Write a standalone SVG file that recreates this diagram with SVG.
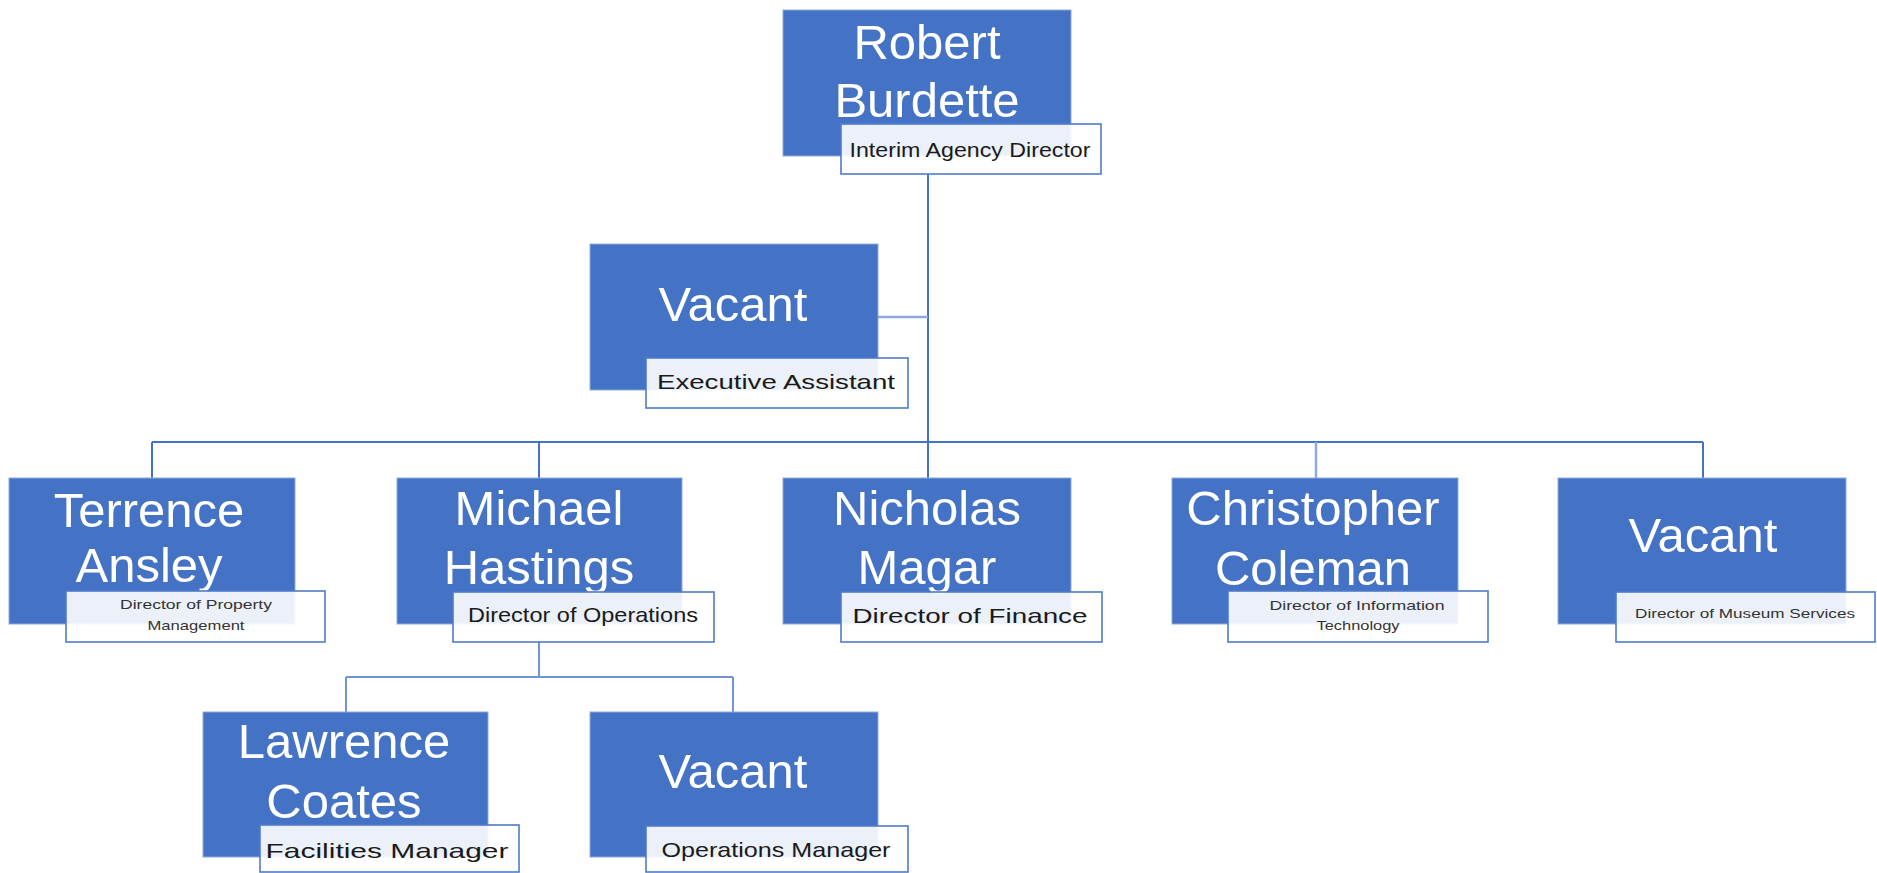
<svg xmlns="http://www.w3.org/2000/svg" width="1877" height="873" viewBox="0 0 1877 873">
<style>
.box{fill:#4472C4;stroke:#8EA9DB;stroke-width:1}
.lbl{fill:#ffffff;fill-opacity:0.9;stroke:#4F7BCB;stroke-width:1.6}
.name{font-family:"Liberation Sans",Arial,sans-serif;font-size:49px;fill:#ffffff;text-anchor:middle}
.role{font-family:"Liberation Sans",Arial,sans-serif;font-size:21px;fill:#1a1a1a;text-anchor:middle}
.small{font-family:"Liberation Sans",Arial,sans-serif;font-size:13px;fill:#333333;text-anchor:middle}
.ln{fill:none;stroke:#4472C4;stroke-width:2}
.lt{fill:none;stroke:#8FAADC;stroke-width:2.5}
.lm{fill:none;stroke:#6F95D6;stroke-width:2}
</style>
<rect width="1877" height="873" fill="#ffffff"/>
<g id="connectors">
<path class="ln" d="M928,174 V442"/>
<path class="lt" d="M878,317 H928"/>
<path class="ln" d="M152,442 H1703"/>
<path class="ln" d="M152,442 V478"/>
<path class="ln" d="M539,442 V478"/>
<path class="ln" d="M928,442 V478"/>
<path class="lt" d="M1316,442 V478"/>
<path class="ln" d="M1703,442 V478"/>
<path class="lm" d="M539,642 V677"/>
<path class="lm" d="M346,677 H733"/>
<path class="lm" d="M346,677 V712"/>
<path class="lm" d="M733,677 V712"/>
</g>
<g id="node-robert">
<rect class="box" x="783" y="10" width="288" height="146"/>
<text class="name" x="927" y="59">Robert</text>
<text class="name" x="927" y="117">Burdette</text>
<rect class="lbl" x="841" y="124" width="260" height="50"/>
<text class="role" x="970" y="157" textLength="241" lengthAdjust="spacingAndGlyphs">Interim Agency Director</text>
</g>
<g id="node-exec-assistant">
<rect class="box" x="590" y="244" width="288" height="146"/>
<text class="name" x="733" y="321">Vacant</text>
<rect class="lbl" x="646" y="358" width="262" height="50"/>
<text class="role" x="776" y="389" font-size="22" textLength="238" lengthAdjust="spacingAndGlyphs">Executive Assistant</text>
</g>
<g id="node-terrence">
<rect class="box" x="9" y="478" width="286" height="146"/>
<text class="name" x="149" y="527">Terrence</text>
<text class="name" x="149" y="582">Ansley</text>
<rect class="lbl" x="66" y="591" width="259" height="51"/>
<text class="small" x="196" y="609" textLength="152" lengthAdjust="spacingAndGlyphs">Director of Property</text>
<text class="small" x="196" y="630" textLength="97" lengthAdjust="spacingAndGlyphs">Management</text>
</g>
<g id="node-michael">
<rect class="box" x="397" y="478" width="285" height="146"/>
<text class="name" x="539" y="525">Michael</text>
<text class="name" x="539" y="584">Hastings</text>
<rect class="lbl" x="453" y="592" width="261" height="50"/>
<text class="role" x="583" y="622" textLength="230" lengthAdjust="spacingAndGlyphs">Director of Operations</text>
</g>
<g id="node-nicholas">
<rect class="box" x="783" y="478" width="288" height="146"/>
<text class="name" x="927" y="525">Nicholas</text>
<text class="name" x="927" y="584">Magar</text>
<rect class="lbl" x="841" y="592" width="261" height="50"/>
<text class="role" x="970" y="623" font-size="22" textLength="235" lengthAdjust="spacingAndGlyphs">Director of Finance</text>
</g>
<g id="node-christopher">
<rect class="box" x="1172" y="478" width="286" height="146"/>
<text class="name" x="1313" y="525">Christopher</text>
<text class="name" x="1313" y="585">Coleman</text>
<rect class="lbl" x="1228" y="591" width="260" height="51"/>
<text class="small" x="1357" y="610" textLength="175" lengthAdjust="spacingAndGlyphs">Director of Information</text>
<text class="small" x="1358" y="630" textLength="83" lengthAdjust="spacingAndGlyphs">Technology</text>
</g>
<g id="node-museum">
<rect class="box" x="1558" y="478" width="288" height="146"/>
<text class="name" x="1703" y="552">Vacant</text>
<rect class="lbl" x="1616" y="592" width="259" height="50"/>
<text class="small" x="1745" y="618" textLength="220" lengthAdjust="spacingAndGlyphs">Director of Museum Services</text>
</g>
<g id="node-lawrence">
<rect class="box" x="203" y="712" width="285" height="145"/>
<text class="name" x="344" y="758">Lawrence</text>
<text class="name" x="344" y="818">Coates</text>
<rect class="lbl" x="260" y="825" width="259" height="47"/>
<text class="role" x="387" y="858" font-size="23" textLength="243" lengthAdjust="spacingAndGlyphs">Facilities Manager</text>
</g>
<g id="node-ops-manager">
<rect class="box" x="590" y="712" width="288" height="145"/>
<text class="name" x="733" y="788">Vacant</text>
<rect class="lbl" x="646" y="826" width="262" height="46"/>
<text class="role" x="776" y="857" textLength="229" lengthAdjust="spacingAndGlyphs">Operations Manager</text>
</g>
</svg>
